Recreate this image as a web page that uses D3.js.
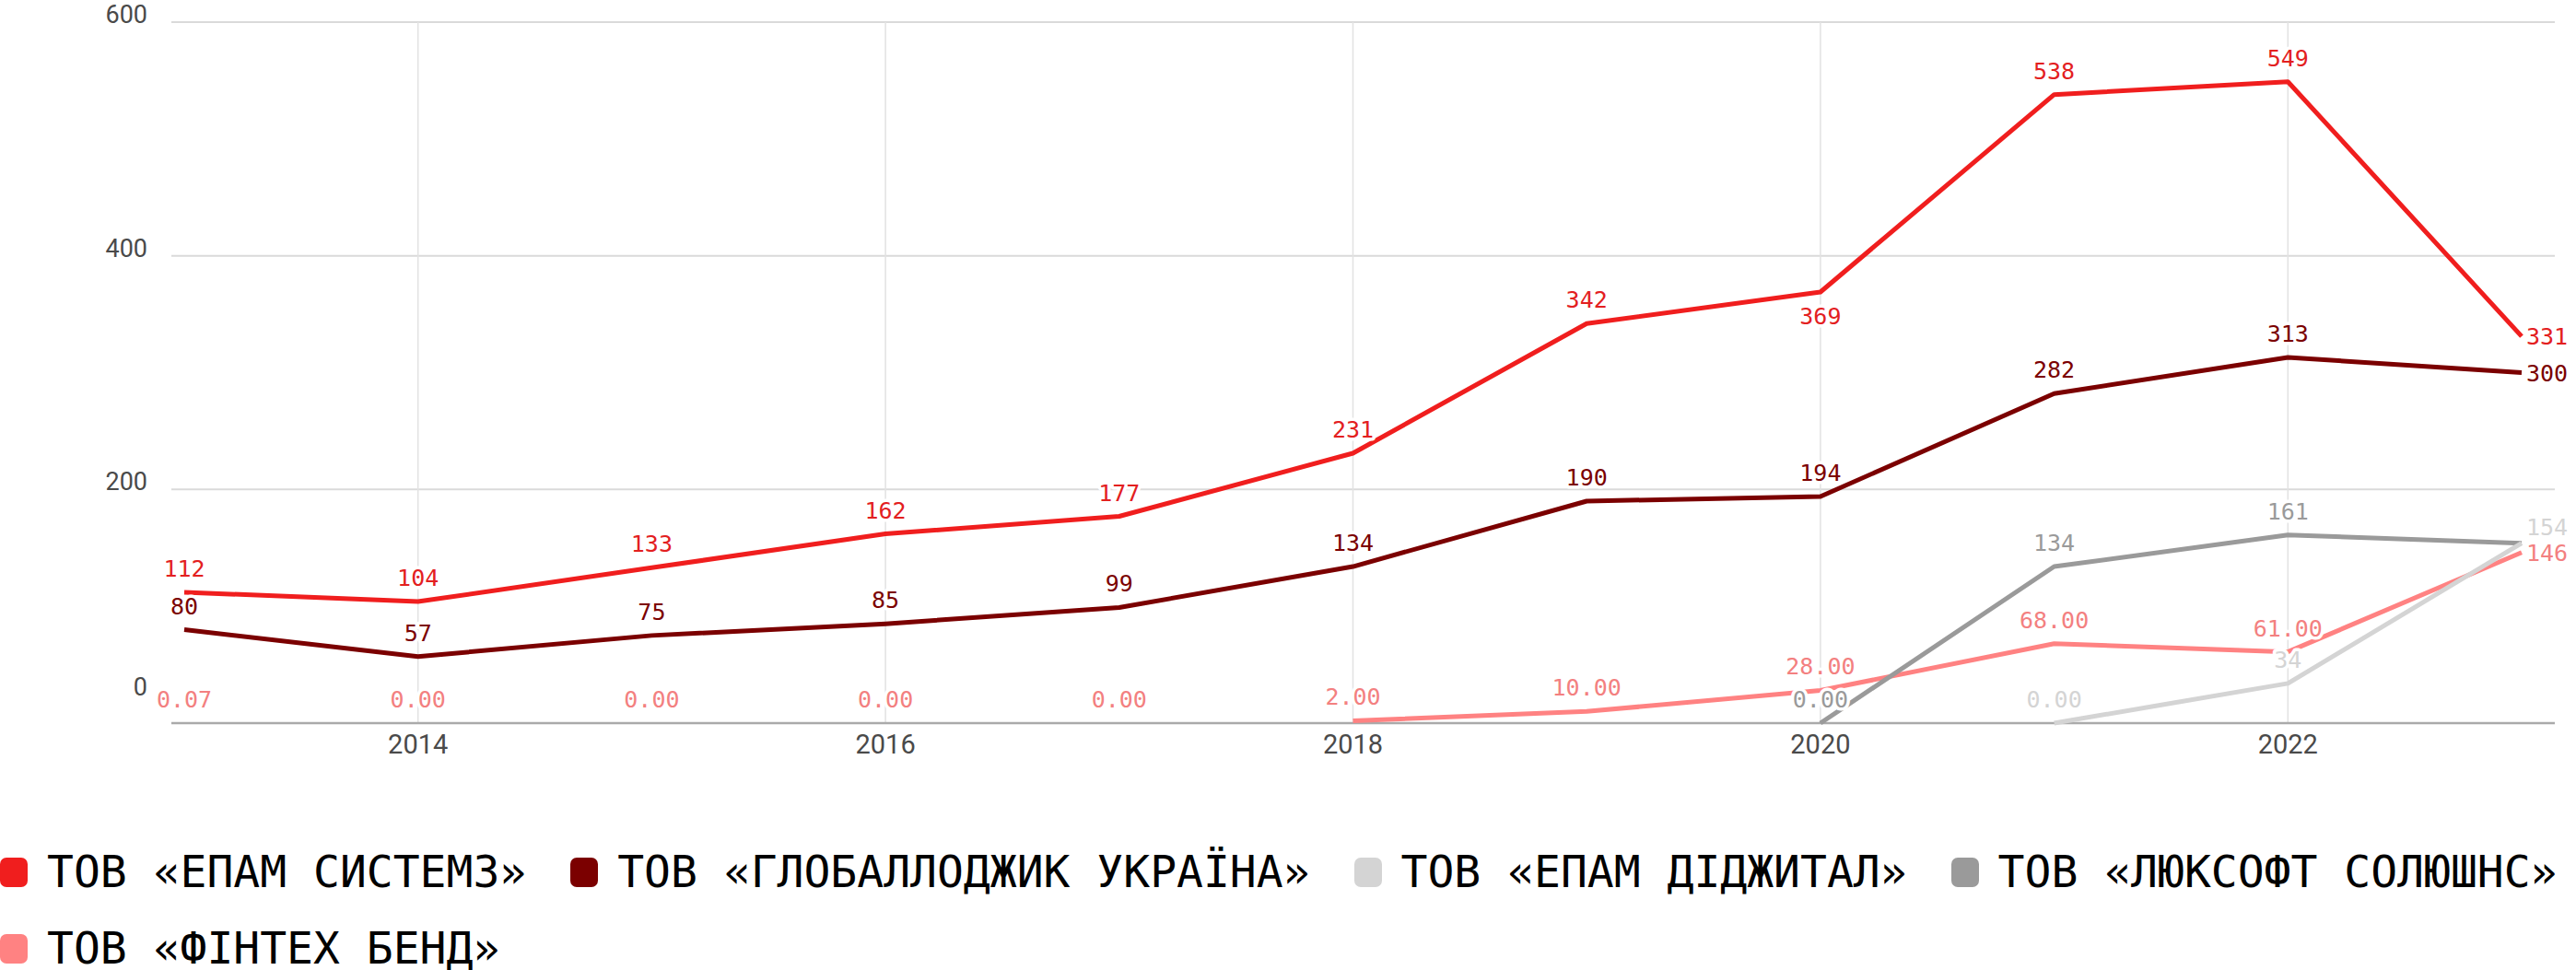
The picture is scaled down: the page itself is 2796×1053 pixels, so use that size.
<!DOCTYPE html>
<html>
<head>
<meta charset="utf-8">
<script src="https://cdn.jsdelivr.net/npm/d3@7"></script>
<style>
  body { margin: 0; background: #fff; width: 2796px; height: 1053px; overflow: hidden; position: relative; }
  #chart { position: absolute; left: 0; top: 0; }
  .legend {
    position: absolute; left: 0; top: 905px; width: 2796px;
    display: flex; flex-wrap: wrap; column-gap: 48px;
    font-family: "DejaVu Sans Mono", monospace; font-size: 48px; line-height: 83px; color: #000;
  }
  .item { display: flex; align-items: center; white-space: nowrap; }
  .swatch { width: 30px; height: 32px; border-radius: 7px; margin-right: 21px; }
  .tick-label { font-family: Roboto, sans-serif; font-size: 29px; fill: #4a4a4a; }
  .tick-label.y { font-size: 27px; }
  .value-label { font-family: "DejaVu Sans Mono", monospace; font-size: 25px; stroke: #fff; stroke-width: 7px; stroke-linejoin: round; paint-order: stroke; }
</style>
</head>
<body>
<svg id="chart" width="2796" height="880"></svg>
<div class="legend" id="legend"></div>
<script>
/* ---- data ---- */
const years = [2013, 2014, 2015, 2016, 2017, 2018, 2019, 2020, 2021, 2022, 2023];
const xTicks = [2014, 2016, 2018, 2020, 2022];
const yTicks = [0, 200, 400, 600];

const epamSystems  = [112, 104, 133, 162, 177, 231, 342, 369, 538, 549, 331];
const globalLogic  = [80, 57, 75, 85, 99, 134, 190, 194, 282, 313, 300];
const epamDigital  = [null, null, null, null, null, null, null, null, 0, 34, 154];
const luxoft       = [null, null, null, null, null, null, null, 0, 134, 161, 154];
const fintechBand  = [0.07, 0, 0, 0, 0, 2, 10, 28, 68, 61, 146];

const seriesNames = [
  "ТОВ «ЕПАМ СИСТЕМЗ»",
  "ТОВ «ГЛОБАЛЛОДЖИК УКРАЇНА»",
  "ТОВ «ЕПАМ ДІДЖИТАЛ»",
  "ТОВ «ЛЮКСОФТ СОЛЮШНС»",
  "ТОВ «ФІНТЕХ БЕНД»"
];

const series = [
  { name: seriesNames[0], values: epamSystems, color: "#f01e1e", label: "#e3201f" },
  { name: seriesNames[1], values: globalLogic, color: "#7b0000", label: "#7b0000" },
  { name: seriesNames[2], values: epamDigital, color: "#d4d4d4", label: "#d4d4d4" },
  { name: seriesNames[3], values: luxoft,      color: "#9a9a9a", label: "#9a9a9a" },
  { name: seriesNames[4], values: fintechBand, color: "#ff8282", label: "#f38080", decimals: true, lineFrom: 2018 }
];

/* ---- layout ---- */
const svg = d3.select("#chart");
const plotLeft = 186, plotRight = 2773;

const x = d3.scaleLinear().domain([2013, 2023]).range([200, 2737]);
const y = d3.scaleLinear().domain([0, 600]).range([785, 24]);
const axisY = y(0);

// horizontal grid
svg.append("g")
  .selectAll("line")
  .data(yTicks.filter(t => t > 0))
  .join("line")
  .attr("x1", plotLeft).attr("x2", plotRight)
  .attr("y1", d => y(d)).attr("y2", d => y(d))
  .attr("stroke", "#dadada").attr("stroke-width", 2);

// vertical grid
svg.append("g")
  .selectAll("line")
  .data(xTicks)
  .join("line")
  .attr("x1", d => x(d)).attr("x2", d => x(d))
  .attr("y1", y(600)).attr("y2", axisY)
  .attr("stroke", "#e2e2e2").attr("stroke-width", 1.5);

// x axis line
svg.append("line")
  .attr("x1", plotLeft).attr("x2", plotRight)
  .attr("y1", axisY).attr("y2", axisY)
  .attr("stroke", "#aaa").attr("stroke-width", 2.5);

// tick labels
svg.append("g")
  .selectAll("text")
  .data(xTicks)
  .join("text")
  .attr("class", "tick-label")
  .attr("x", d => x(d)).attr("y", 818)
  .attr("text-anchor", "middle")
  .text(d => d);

svg.append("g")
  .selectAll("text")
  .data(yTicks)
  .join("text")
  .attr("class", "tick-label y")
  .attr("x", 160)
  .attr("y", d => d === 0 ? axisY - 30 : y(d) + 1)
  .attr("text-anchor", "end")
  .text(d => d);

/* ---- lines ---- */
const line = d3.line()
  .defined(d => d.v != null)
  .x(d => x(d.yr))
  .y(d => y(d.v));

const points = s => years.map((yr, i) => ({ yr, v: s.values[i] }));

svg.append("g")
  .selectAll("path")
  .data(series.slice().reverse())
  .join("path")
  .attr("fill", "none")
  .attr("stroke", s => s.color)
  .attr("stroke-width", 5)
  .attr("stroke-linejoin", "round")
  .attr("d", s => line(points(s).filter(p => !s.lineFrom || p.yr >= s.lineFrom)));

/* ---- value labels ---- */
const fmt = (s, v) => v === 0 ? "0.00" : (s.decimals && v < 100 ? v.toFixed(2) : String(v));
const labelOff = 26;
const lastYear = years[years.length - 1];
const labels = [], endLabels = [];

series.forEach(s => {
  const pts = points(s).filter(p => p.v != null);
  pts.forEach((p, k) => {
    const px = x(p.yr), py = y(p.v);
    const text = fmt(s, p.v);
    if (p.yr === lastYear) {
      endLabels.push({ x: px + 5, y: py, text, color: s.label, anchor: "start" });
      return;
    }
    // flip the label under the point when a neighbour segment climbs steeply through it
    const steep = q => q && (py - y(q.v)) / Math.abs(x(q.yr) - px) > 0.7;
    let cy = steep(pts[k + 1]) || steep(pts[k - 1]) ? py + labelOff : py - labelOff;
    cy = Math.min(cy, axisY - 10);
    labels.push({ x: px, y: cy, text, color: s.label, anchor: "middle" });
  });
});

// end labels: drop duplicates, then push apart from the bottom up
const ends = [];
endLabels.forEach(l => {
  if (!ends.some(e => e.text === l.text && Math.abs(e.y - l.y) < 1)) ends.push(l);
});
ends.sort((a, b) => b.y - a.y);
for (let i = 1; i < ends.length; i++) {
  if (ends[i].y > ends[i - 1].y - 28) ends[i].y = ends[i - 1].y - 28;
}

svg.append("g")
  .selectAll("text")
  .data(labels.concat(ends))
  .join("text")
  .attr("class", "value-label")
  .attr("x", d => d.x).attr("y", d => d.y)
  .attr("dy", "0.36em")
  .attr("text-anchor", d => d.anchor)
  .attr("fill", d => d.color)
  .text(d => d.text);

/* ---- legend ---- */
const items = d3.select("#legend")
  .selectAll("div")
  .data(series)
  .join("div")
  .attr("class", "item");
items.append("span").attr("class", "swatch").style("background", s => s.color);
items.append("span").text(s => s.name);
</script>
</body>
</html>
